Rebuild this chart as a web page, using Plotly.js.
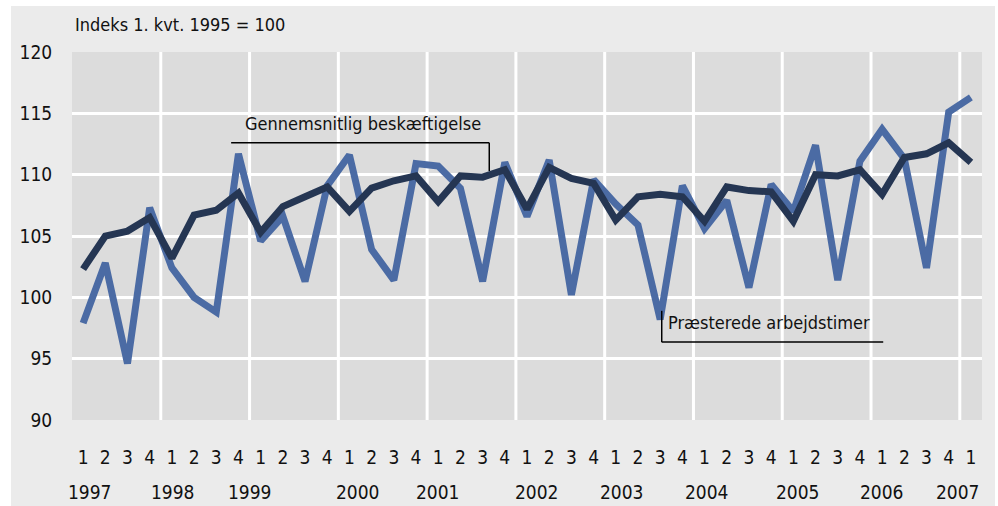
<!DOCTYPE html>
<html>
<head>
<meta charset="utf-8">
<script src="https://cdn.plot.ly/plotly-3.0.1.min.js"></script>
<style>
  html, body { margin: 0; padding: 0; background: #ffffff; width: 998px; height: 506px; overflow: hidden; }
  #chart { position: absolute; left: 11px; top: 6px; width: 984px; height: 500px; }
</style>
</head>
<body>
<div id="chart"></div>
<script>
// ---- data ----
const years = ["1997","1998","1999","2000","2001","2002","2003","2004","2005","2006","2007"];
const quarters = ["1","2","3","4","1","2","3","4","1","2","3","4","1","2","3","4","1","2","3","4",
                  "1","2","3","4","1","2","3","4","1","2","3","4","1","2","3","4","1","2","3","4","1"];
// Præsterede arbejdstimer (index, 1. kvt. 1995 = 100)
const hours = [97.9, 102.8, 94.6, 107.3, 102.4, 100.0, 98.8, 111.7, 104.6, 106.6,
               101.3, 109.1, 111.6, 103.9, 101.4, 110.9, 110.7, 108.9, 101.3, 111.0,
               106.6, 111.2, 100.2, 109.6, 107.6, 105.9, 98.2, 109.1, 105.6, 107.9,
               100.8, 109.2, 107.0, 112.4, 101.4, 111.1, 113.7, 111.3, 102.4, 115.1, 116.3];
// Gennemsnitlig beskæftigelse
const employment = [102.3, 105.0, 105.4, 106.5, 103.2, 106.7, 107.1, 108.5, 105.3, 107.4,
                    108.2, 109.0, 107.0, 108.9, 109.5, 109.9, 107.8, 109.9, 109.8, 110.4,
                    107.2, 110.6, 109.7, 109.3, 106.3, 108.2, 108.4, 108.2, 106.2, 109.0,
                    108.7, 108.6, 106.2, 110.0, 109.9, 110.4, 108.4, 111.4, 111.7, 112.6, 111.0];
const seriesNames = ["Præsterede arbejdstimer", "Gennemsnitlig beskæftigelse"];
const yTicks = [90, 95, 100, 105, 110, 115, 120];

// ---- layout helpers ----
const idx = quarters.map((_, i) => i);
// year labels sit slightly irregularly in the original
const yearLabelOffset = [0.3, 0.05, -0.5, 0.4, 0.0, 0.45, 0.3, 0.1, 0.2, 0.0, -0.6];
const FONT = "'Liberation Sans Narrow', 'DejaVu Sans Condensed', 'Open Sans', sans-serif";

const traces = [
  { x: idx, y: hours, name: seriesNames[0], type: "scatter", mode: "lines",
    line: { color: "#4b6ba4", width: 7 } },
  { x: idx, y: employment, name: seriesNames[1], type: "scatter", mode: "lines",
    line: { color: "#253653", width: 7 } }
];

const shapes = [];
// vertical grid lines at year boundaries
for (let k = 1; k < years.length; k++) {
  shapes.push({ type: "line", layer: "below", xref: "x", yref: "paper",
    x0: 4 * k - 0.5, x1: 4 * k - 0.5, y0: 0, y1: 1,
    line: { color: "#ffffff", width: 3 } });
}
// leader lines for the series labels
shapes.push({ type: "line", xref: "x", yref: "y", x0: 6.67, x1: 18.3, y0: 112.6, y1: 112.6, line: { color: "#000", width: 1.5 } });
shapes.push({ type: "line", xref: "x", yref: "y", x0: 18.3, x1: 18.3, y0: 112.6, y1: 110.3, line: { color: "#000", width: 1.5 } });
shapes.push({ type: "line", xref: "x", yref: "y", x0: 26.07, x1: 26.07, y0: 98.9, y1: 96.35, line: { color: "#000", width: 1.5 } });
shapes.push({ type: "line", xref: "x", yref: "y", x0: 26.07, x1: 36.05, y0: 96.35, y1: 96.35, line: { color: "#000", width: 1.5 } });

const annotations = years.map((yr, k) => ({
  text: yr, xref: "x", yref: "paper", x: 4 * k + yearLabelOffset[k], y: -0.195,
  xanchor: "center", yanchor: "middle", showarrow: false,
  font: { family: FONT, size: 19, color: "#111" }
}));
annotations.push({ text: seriesNames[1], xref: "x", yref: "y", x: 7.2, y: 114.15,
  xanchor: "left", yanchor: "middle", showarrow: false, font: { family: FONT, size: 18, color: "#111" } });
annotations.push({ text: seriesNames[0], xref: "x", yref: "y", x: 26.25, y: 97.95,
  xanchor: "left", yanchor: "middle", showarrow: false, font: { family: FONT, size: 18, color: "#111" } });

const layout = {
  width: 984, height: 500,
  margin: { l: 61, r: 13, t: 46, b: 86, pad: 0 },
  paper_bgcolor: "#ebebeb",
  plot_bgcolor: "#dcdcdc",
  showlegend: false,
  font: { family: FONT, size: 18, color: "#111" },
  title: { text: "Indeks 1. kvt. 1995 = 100", xref: "container", yref: "container",
    x: 64 / 984, xanchor: "left", y: 1 - 19 / 500, yanchor: "middle",
    font: { family: FONT, size: 18, color: "#111" } },
  xaxis: {
    range: [-0.5, quarters.length - 0.5], tickmode: "array", tickvals: idx, ticktext: quarters,
    showgrid: false, zeroline: false, showline: false,
    ticks: "outside", ticklen: 20, tickcolor: "rgba(0,0,0,0)",
    tickfont: { family: FONT, size: 19, color: "#111" }, fixedrange: true
  },
  yaxis: {
    range: [90, 120], tickmode: "array", tickvals: yTicks,
    showgrid: true, gridcolor: "#ffffff", gridwidth: 3, zeroline: false, showline: false,
    ticks: "outside", ticklen: 15, tickcolor: "rgba(0,0,0,0)",
    tickfont: { family: FONT, size: 19, color: "#111" }, fixedrange: true
  },
  shapes: shapes,
  annotations: annotations
};

Plotly.newPlot("chart", traces, layout, { staticPlot: true, displayModeBar: false });
</script>
</body>
</html>
